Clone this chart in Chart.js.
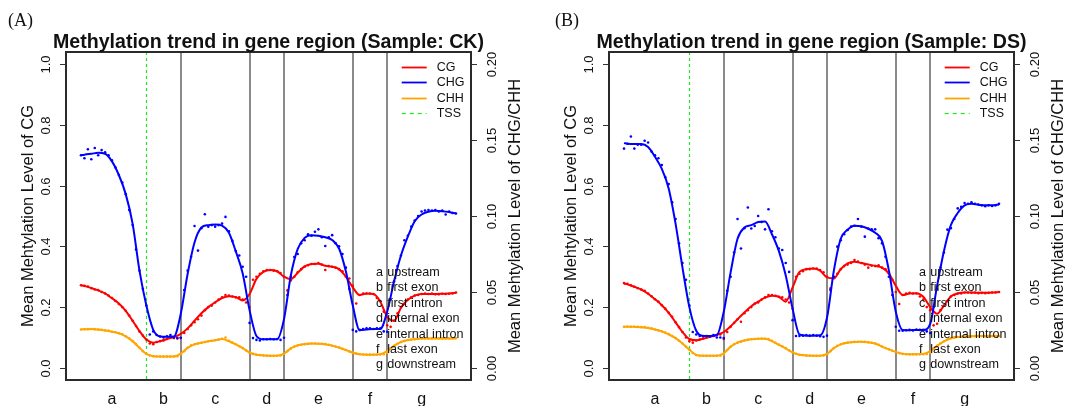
<!DOCTYPE html>
<html>
<head>
<meta charset="utf-8">
<script src="https://cdn.jsdelivr.net/npm/chart.js@4.4.1/dist/chart.umd.min.js"></script>
<style>
  html, body { margin: 0; padding: 0; background: #fff; width: 1065px; height: 406px; overflow: hidden; }
  .panel { position: absolute; top: 0; width: 540px; height: 406px; }
</style>
</head>
<body>
<div class="panel" style="left:0"><canvas id="chartCK" width="540" height="406"></canvas></div>
<div class="panel" style="left:543px"><canvas id="chartDS" width="540" height="406"></canvas></div>
<script>
// ---- gene-region layout (x in region units: a=0-2, b=2-3, c=3-5, d=5-6, e=6-8, f=8-9, g=9-11)
const regionLetters = ['a', 'b', 'c', 'd', 'e', 'f', 'g'];
const regionNames = ['upstream', 'first exon', 'first intron', 'internal exon', 'internal intron', 'last exon', 'downstream'];
const regionCenters = [1, 2.5, 4, 5.5, 7, 8.5, 10];
const regionBounds = [3, 5, 6, 8, 9];
const tssPosition = 2;

// ---- axis ticks
const cgTicks = [0, 0.2, 0.4, 0.6, 0.8, 1.0];
const cgTickLabels = ['0.0', '0.2', '0.4', '0.6', '0.8', '1.0'];
const chTicks = [0, 0.05, 0.10, 0.15, 0.20];
const chTickLabels = ['0.00', '0.05', '0.10', '0.15', '0.20'];

// ---- bin positions (10 bins per region unit) and fitted-curve positions
const binPositions = Array.from({ length: 110 }, (_, i) => (i + 1) / 10);
const fitPositions = [0.1].concat(Array.from({ length: 55 }, (_, k) => (k + 1) * 0.2));

// ---- Sample CK: fitted curves
const ckCgFit = [0.272, 0.270, 0.263, 0.255, 0.245, 0.229,
  0.212, 0.188, 0.155, 0.121, 0.093,
  0.083, 0.088, 0.095, 0.101, 0.112,
  0.130, 0.155, 0.180, 0.200, 0.216,
  0.230, 0.236, 0.233, 0.222, 0.243,
  0.293, 0.316, 0.322, 0.318, 0.300,
  0.292, 0.313, 0.334, 0.342, 0.343,
  0.336, 0.333, 0.325, 0.300, 0.265,
  0.240, 0.245, 0.243, 0.218, 0.168,
  0.155, 0.198, 0.224, 0.238, 0.243,
  0.243, 0.243, 0.244, 0.245, 0.247];
const ckChgFit = [0.700, 0.702, 0.705, 0.708, 0.705, 0.680,
  0.635, 0.572, 0.475, 0.320, 0.205,
  0.125, 0.103, 0.102, 0.103, 0.178,
  0.310, 0.413, 0.462, 0.470, 0.472,
  0.468, 0.445, 0.383, 0.311, 0.190,
  0.105, 0.094, 0.094, 0.094, 0.160,
  0.305, 0.392, 0.428, 0.437, 0.435,
  0.430, 0.421, 0.393, 0.317, 0.205,
  0.124, 0.126, 0.128, 0.128, 0.185,
  0.285, 0.370, 0.432, 0.483, 0.505,
  0.514, 0.517, 0.516, 0.513, 0.508];
const ckChhFit = [0.0253, 0.0254, 0.0256, 0.0252, 0.0246, 0.0238,
  0.0228, 0.0208, 0.0176, 0.0132, 0.0092,
  0.0077, 0.0074, 0.0074, 0.0075, 0.0094,
  0.0132, 0.0155, 0.0165, 0.0175, 0.0182,
  0.0190, 0.0175, 0.0155, 0.0130, 0.0100,
  0.0086, 0.0082, 0.0080, 0.0080, 0.0094,
  0.0128, 0.0148, 0.0156, 0.0160, 0.0159,
  0.0156, 0.0146, 0.0134, 0.0117, 0.0100,
  0.0090, 0.0087, 0.0087, 0.0090, 0.0110,
  0.0145, 0.0170, 0.0183, 0.0189, 0.0193,
  0.0194, 0.0194, 0.0194, 0.0194, 0.0194];

// ---- Sample CK: per-bin means
const ckCgBins = [0.272, 0.270, 0.268, 0.262, 0.258, 0.256, 0.250, 0.245, 0.238, 0.230,
  0.220, 0.210, 0.200, 0.188, 0.172, 0.155, 0.138, 0.120, 0.106, 0.093,
  0.080, 0.078, 0.085, 0.088, 0.090, 0.095, 0.100, 0.098, 0.097, 0.098,
  0.115, 0.128, 0.140, 0.150, 0.160, 0.172, 0.190, 0.200, 0.205, 0.215,
  0.225, 0.232, 0.240, 0.238, 0.235, 0.232, 0.232, 0.225, 0.215, 0.200,
  0.290, 0.300, 0.310, 0.318, 0.322, 0.322, 0.320, 0.318, 0.312, 0.300,
  0.255, 0.288, 0.300, 0.315, 0.325, 0.333, 0.338, 0.342, 0.342, 0.345,
  0.340, 0.322, 0.335, 0.333, 0.330, 0.325, 0.318, 0.300, 0.294, 0.270,
  0.212, 0.240, 0.245, 0.245, 0.245, 0.243, 0.230, 0.220, 0.185, 0.140,
  0.135, 0.155, 0.180, 0.200, 0.210, 0.225, 0.232, 0.238, 0.240, 0.243,
  0.245, 0.243, 0.245, 0.242, 0.242, 0.244, 0.243, 0.244, 0.245, 0.248];
const ckChgBins = [0.700, 0.690, 0.720, 0.687, 0.724, 0.700, 0.717, 0.710, 0.700, 0.683,
  0.660, 0.635, 0.610, 0.572, 0.520, 0.470, 0.390, 0.320, 0.260, 0.205,
  0.110, 0.120, 0.108, 0.103, 0.100, 0.104, 0.108, 0.100, 0.098, 0.099,
  0.256, 0.320, 0.366, 0.467, 0.386, 0.460, 0.506, 0.465, 0.470, 0.465,
  0.470, 0.475, 0.497, 0.450, 0.418, 0.385, 0.370, 0.333, 0.300, 0.148,
  0.098, 0.092, 0.090, 0.094, 0.094, 0.095, 0.094, 0.095, 0.092, 0.099,
  0.240, 0.300, 0.365, 0.375, 0.410, 0.420, 0.440, 0.435, 0.448, 0.456,
  0.430, 0.401, 0.430, 0.437, 0.410, 0.400, 0.375, 0.330, 0.260, 0.125,
  0.120, 0.125, 0.128, 0.130, 0.130, 0.128, 0.130, 0.130, 0.120, 0.119,
  0.225, 0.285, 0.335, 0.370, 0.420, 0.435, 0.465, 0.485, 0.500, 0.515,
  0.518, 0.520, 0.518, 0.520, 0.515, 0.518, 0.505, 0.515, 0.510, 0.508];
const ckChhBins = [0.0253, 0.0254, 0.0255, 0.0256, 0.0255, 0.0252, 0.0251, 0.0247, 0.0245, 0.0238,
  0.0234, 0.0228, 0.0221, 0.0208, 0.0195, 0.0176, 0.0156, 0.0132, 0.0110, 0.0092,
  0.0082, 0.0077, 0.0075, 0.0074, 0.0074, 0.0074, 0.0074, 0.0075, 0.0076, 0.0090,
  0.0110, 0.0132, 0.0148, 0.0155, 0.0160, 0.0165, 0.0170, 0.0175, 0.0178, 0.0182,
  0.0186, 0.0192, 0.0200, 0.0178, 0.0166, 0.0155, 0.0142, 0.0130, 0.0115, 0.0100,
  0.0092, 0.0086, 0.0084, 0.0082, 0.0081, 0.0080, 0.0080, 0.0080, 0.0082, 0.0092,
  0.0110, 0.0128, 0.0140, 0.0148, 0.0152, 0.0156, 0.0158, 0.0160, 0.0160, 0.0159,
  0.0158, 0.0156, 0.0152, 0.0146, 0.0140, 0.0134, 0.0126, 0.0117, 0.0108, 0.0100,
  0.0094, 0.0090, 0.0088, 0.0087, 0.0087, 0.0087, 0.0087, 0.0088, 0.0090, 0.0098,
  0.0128, 0.0145, 0.0158, 0.0170, 0.0177, 0.0183, 0.0186, 0.0189, 0.0191, 0.0193,
  0.0194, 0.0193, 0.0194, 0.0195, 0.0194, 0.0194, 0.0193, 0.0194, 0.0194, 0.0195];

// ---- Sample DS: fitted curves
const dsCgFit = [0.278, 0.275, 0.267, 0.258, 0.244, 0.226,
  0.206, 0.181, 0.150, 0.118, 0.095,
  0.091, 0.096, 0.102, 0.109, 0.118,
  0.137, 0.160, 0.182, 0.203, 0.218,
  0.231, 0.237, 0.234, 0.218, 0.265,
  0.316, 0.325, 0.327, 0.320, 0.298,
  0.295, 0.325, 0.344, 0.349, 0.345,
  0.340, 0.336, 0.330, 0.310, 0.270,
  0.240, 0.245, 0.246, 0.234, 0.200,
  0.178, 0.205, 0.235, 0.245, 0.248,
  0.248, 0.247, 0.247, 0.248, 0.250];
const dsChgFit = [0.740, 0.738, 0.737, 0.737, 0.727, 0.695,
  0.655, 0.590, 0.474, 0.330, 0.200,
  0.122, 0.105, 0.105, 0.108, 0.185,
  0.315, 0.425, 0.462, 0.470, 0.480,
  0.482, 0.440, 0.385, 0.305, 0.195,
  0.110, 0.106, 0.106, 0.107, 0.165,
  0.320, 0.425, 0.455, 0.468, 0.466,
  0.458, 0.445, 0.418, 0.320, 0.185,
  0.125, 0.124, 0.125, 0.125, 0.145,
  0.270, 0.385, 0.470, 0.510, 0.535,
  0.540, 0.537, 0.535, 0.535, 0.538];
const dsChhFit = [0.0271, 0.0271, 0.0270, 0.0268, 0.0262, 0.0253,
  0.0240, 0.0220, 0.0196, 0.0160, 0.0120,
  0.0085, 0.0080, 0.0080, 0.0080, 0.0096,
  0.0140, 0.0166, 0.0180, 0.0188, 0.0192,
  0.0191, 0.0176, 0.0152, 0.0128, 0.0102,
  0.0086, 0.0082, 0.0080, 0.0080, 0.0092,
  0.0130, 0.0155, 0.0166, 0.0171, 0.0172,
  0.0168, 0.0160, 0.0140, 0.0122, 0.0105,
  0.0092, 0.0089, 0.0089, 0.0092, 0.0110,
  0.0145, 0.0175, 0.0195, 0.0203, 0.0206,
  0.0208, 0.0209, 0.0209, 0.0209, 0.0209];

// ---- Sample DS: per-bin means
const dsCgBins = [0.279, 0.277, 0.272, 0.267, 0.262, 0.258, 0.254, 0.245, 0.236, 0.226,
  0.218, 0.206, 0.195, 0.181, 0.168, 0.150, 0.134, 0.118, 0.100, 0.088,
  0.083, 0.090, 0.093, 0.097, 0.100, 0.103, 0.105, 0.108, 0.110, 0.095,
  0.118, 0.135, 0.148, 0.160, 0.152, 0.180, 0.190, 0.200, 0.212, 0.215,
  0.225, 0.232, 0.240, 0.240, 0.237, 0.234, 0.232, 0.225, 0.215, 0.195,
  0.300, 0.310, 0.318, 0.325, 0.325, 0.327, 0.327, 0.322, 0.315, 0.300,
  0.262, 0.295, 0.310, 0.325, 0.335, 0.340, 0.345, 0.355, 0.350, 0.345,
  0.340, 0.330, 0.336, 0.335, 0.338, 0.330, 0.325, 0.310, 0.290, 0.250,
  0.210, 0.240, 0.245, 0.247, 0.245, 0.245, 0.235, 0.225, 0.200, 0.190,
  0.140, 0.145, 0.190, 0.205, 0.220, 0.235, 0.240, 0.245, 0.245, 0.248,
  0.248, 0.247, 0.248, 0.246, 0.247, 0.246, 0.247, 0.248, 0.248, 0.250];
const dsChgBins = [0.722, 0.738, 0.762, 0.722, 0.735, 0.735, 0.748, 0.742, 0.712, 0.700,
  0.690, 0.668, 0.628, 0.605, 0.545, 0.490, 0.410, 0.345, 0.290, 0.205,
  0.118, 0.110, 0.105, 0.105, 0.105, 0.103, 0.108, 0.100, 0.100, 0.098,
  0.254, 0.300, 0.380, 0.490, 0.393, 0.460, 0.528, 0.459, 0.467, 0.500,
  0.480, 0.456, 0.522, 0.450, 0.430, 0.393, 0.388, 0.345, 0.316, 0.157,
  0.105, 0.105, 0.106, 0.108, 0.106, 0.108, 0.106, 0.104, 0.102, 0.106,
  0.256, 0.300, 0.399, 0.420, 0.440, 0.454, 0.465, 0.468, 0.490, 0.465,
  0.432, 0.459, 0.456, 0.456, 0.427, 0.410, 0.366, 0.300, 0.240, 0.135,
  0.122, 0.122, 0.124, 0.125, 0.123, 0.126, 0.125, 0.125, 0.120, 0.115,
  0.200, 0.260, 0.330, 0.380, 0.455, 0.460, 0.490, 0.525, 0.530, 0.543,
  0.540, 0.545, 0.540, 0.538, 0.535, 0.532, 0.535, 0.533, 0.535, 0.540];
const dsChhBins = [0.0271, 0.0272, 0.0270, 0.0271, 0.0270, 0.0268, 0.0268, 0.0263, 0.0260, 0.0253,
  0.0247, 0.0240, 0.0232, 0.0222, 0.0210, 0.0196, 0.0178, 0.0160, 0.0140, 0.0120,
  0.0098, 0.0085, 0.0080, 0.0079, 0.0079, 0.0080, 0.0079, 0.0079, 0.0080, 0.0088,
  0.0118, 0.0140, 0.0155, 0.0166, 0.0172, 0.0180, 0.0184, 0.0188, 0.0190, 0.0192,
  0.0193, 0.0192, 0.0190, 0.0178, 0.0165, 0.0153, 0.0142, 0.0130, 0.0115, 0.0102,
  0.0093, 0.0086, 0.0084, 0.0082, 0.0081, 0.0080, 0.0080, 0.0080, 0.0082, 0.0090,
  0.0110, 0.0130, 0.0145, 0.0155, 0.0162, 0.0166, 0.0169, 0.0171, 0.0172, 0.0172,
  0.0171, 0.0168, 0.0165, 0.0160, 0.0152, 0.0140, 0.0131, 0.0122, 0.0113, 0.0105,
  0.0097, 0.0092, 0.0090, 0.0089, 0.0089, 0.0089, 0.0089, 0.0090, 0.0092, 0.0100,
  0.0128, 0.0145, 0.0162, 0.0175, 0.0186, 0.0195, 0.0199, 0.0203, 0.0205, 0.0206,
  0.0207, 0.0208, 0.0209, 0.0209, 0.0209, 0.0208, 0.0209, 0.0209, 0.0210, 0.0209];

// ---- styling
const COLORS = { CG: '#ff0000', CHG: '#0000ff', CHH: '#ffa500', TSS: '#1ee81e', region: '#8a8a8a', frame: '#2a2a2a' };
const SANS = '"Liberation Sans", Arial, Helvetica, sans-serif';
const SERIF = '"Liberation Serif", "Times New Roman", serif';

const toPoints = (xs, ys) => ys.map((y, i) => ({ x: xs[i], y }));

function fitDataset(values, color, axis, order) {
  return {
    type: 'line', data: toPoints(fitPositions, values), yAxisID: axis, order,
    borderColor: color, borderWidth: 2, pointRadius: 0, fill: false,
    cubicInterpolationMode: 'monotone'
  };
}
function binDataset(values, color, axis, order) {
  return {
    type: 'line', data: toPoints(binPositions, values), yAxisID: axis, order,
    showLine: false, pointRadius: 1.3, pointBorderWidth: 0,
    pointBackgroundColor: color, borderColor: color
  };
}

function rotatedText(ctx, text, x, y) {
  ctx.save();
  ctx.translate(x, y);
  ctx.rotate(-Math.PI / 2);
  ctx.fillText(text, 0, 0);
  ctx.restore();
}

function panelDecor(titleText, tagText, tagX) {
  return {
    id: 'panelDecor',
    beforeDatasetsDraw(chart) {
      const { ctx, chartArea: a, scales } = chart;
      const xs = scales.x;
      ctx.save();
      ctx.strokeStyle = COLORS.region;
      ctx.lineWidth = 2;
      regionBounds.forEach(b => {
        const px = Math.round(xs.getPixelForValue(b));
        ctx.beginPath(); ctx.moveTo(px, a.top); ctx.lineTo(px, a.bottom); ctx.stroke();
      });
      // transcription start site
      ctx.strokeStyle = COLORS.TSS;
      ctx.lineWidth = 1.2;
      ctx.setLineDash([3, 3]);
      const tx = Math.round(xs.getPixelForValue(tssPosition)) + 0.5;
      ctx.beginPath(); ctx.moveTo(tx, a.top); ctx.lineTo(tx, a.bottom); ctx.stroke();
      ctx.restore();
    },
    afterDatasetsDraw(chart) {
      const { ctx, chartArea: a, scales } = chart;
      const xs = scales.x, yL = scales.yCG, yR = scales.yCH;
      ctx.save();

      // plot frame
      ctx.strokeStyle = COLORS.frame;
      ctx.lineWidth = 2;
      ctx.strokeRect(a.left, a.top, a.right - a.left, a.bottom - a.top);

      // left axis (CG)
      ctx.lineWidth = 1;
      ctx.strokeStyle = '#333';
      ctx.fillStyle = '#111';
      ctx.font = '13px ' + SANS;
      ctx.textAlign = 'center';
      ctx.textBaseline = 'alphabetic';
      cgTicks.forEach((v, i) => {
        const py = Math.round(yL.getPixelForValue(v)) + 0.5;
        ctx.beginPath(); ctx.moveTo(a.left - 6, py); ctx.lineTo(a.left, py); ctx.stroke();
        rotatedText(ctx, cgTickLabels[i], a.left - 16, py);
      });
      // right axis (CHG / CHH)
      chTicks.forEach((v, i) => {
        const py = Math.round(yR.getPixelForValue(v)) + 0.5;
        ctx.beginPath(); ctx.moveTo(a.right, py); ctx.lineTo(a.right + 6, py); ctx.stroke();
        rotatedText(ctx, chTickLabels[i], a.right + 25, py);
      });

      // axis titles
      const midY = (a.top + a.bottom) / 2;
      ctx.font = '16.5px ' + SANS;
      rotatedText(ctx, 'Mean Mehtylation Level of CG', a.left - 33, midY);
      rotatedText(ctx, 'Mean Mehtylation Level of CHG/CHH', a.right + 49, midY);

      // region letters under the axis
      ctx.font = '16px ' + SANS;
      regionLetters.forEach((r, i) => {
        ctx.fillText(r, xs.getPixelForValue(regionCenters[i]), a.bottom + 24);
      });

      // chart title
      ctx.font = 'bold 19.6px ' + SANS;
      ctx.fillText(titleText, (a.left + a.right) / 2, a.top - 4.5);

      // panel tag
      ctx.font = '18px ' + SERIF;
      ctx.textAlign = 'left';
      ctx.fillText(tagText, tagX, 26);

      // series legend (top right)
      const series = [['CG', COLORS.CG, false], ['CHG', COLORS.CHG, false], ['CHH', COLORS.CHH, false], ['TSS', COLORS.TSS, true]];
      ctx.font = '12.5px ' + SANS;
      ctx.textBaseline = 'middle';
      series.forEach(([name, color, dashed], i) => {
        const y = Math.round(a.top + 14.7 + i * 15.5) + 0.5;
        ctx.save();
        ctx.strokeStyle = color;
        ctx.lineWidth = dashed ? 1.2 : 1.8;
        if (dashed) ctx.setLineDash([4, 4]);
        ctx.beginPath(); ctx.moveTo(a.right - 69.3, y); ctx.lineTo(a.right - 44.3, y); ctx.stroke();
        ctx.restore();
        ctx.fillText(name, a.right - 34.3, y + 0.5);
      });

      // region key
      ctx.font = '12.6px ' + SANS;
      regionLetters.forEach((r, i) => {
        const y = a.top + 220.3 + i * 15.45;
        ctx.fillText(r, a.right - 95, y);
        ctx.fillText(regionNames[i], a.right - 83.7, y);
      });

      ctx.restore();
    }
  };
}

function buildPanel(canvasId, titleText, tagText, tagX, cg, chg, chh, cgBins, chgBins, chhBins) {
  return new Chart(document.getElementById(canvasId), {
    type: 'line',
    data: {
      datasets: [
        binDataset(cgBins, COLORS.CG, 'yCG', 6),
        fitDataset(cg, COLORS.CG, 'yCG', 5),
        binDataset(chgBins, COLORS.CHG, 'yCH', 4),
        fitDataset(chg.map(v => v / 5), COLORS.CHG, 'yCH', 3),
        binDataset(chhBins, COLORS.CHH, 'yCH', 2),
        fitDataset(chh, COLORS.CHH, 'yCH', 1)
      ]
    },
    options: {
      responsive: false,
      animation: false,
      devicePixelRatio: 1,
      layout: { padding: { left: 66, right: 69, top: 52, bottom: 26 } },
      scales: {
        x: { type: 'linear', min: -0.336, max: 11.436, display: false },
        yCG: { type: 'linear', position: 'left', min: -0.04, max: 1.04, display: false },
        yCH: { type: 'linear', position: 'right', min: -0.008, max: 0.208, display: false }
      },
      plugins: { legend: { display: false }, tooltip: { enabled: false }, title: { display: false } }
    },
    plugins: [panelDecor(titleText, tagText, tagX)]
  });
}

// CHG per-bin means are read on the CG scale (0-1) and drawn on the CHG/CHH axis (0-0.2).
const ckChgBinsRight = ckChgBins.map(v => v / 5);
const dsChgBinsRight = dsChgBins.map(v => v / 5);

buildPanel('chartCK', 'Methylation trend in gene region (Sample: CK)', '(A)', 8,
  ckCgFit, ckChgFit, ckChhFit, ckCgBins, ckChgBinsRight, ckChhBins);
buildPanel('chartDS', 'Methylation trend in gene region (Sample: DS)', '(B)', 12,
  dsCgFit, dsChgFit, dsChhFit, dsCgBins, dsChgBinsRight, dsChhBins);
</script>
</body>
</html>
